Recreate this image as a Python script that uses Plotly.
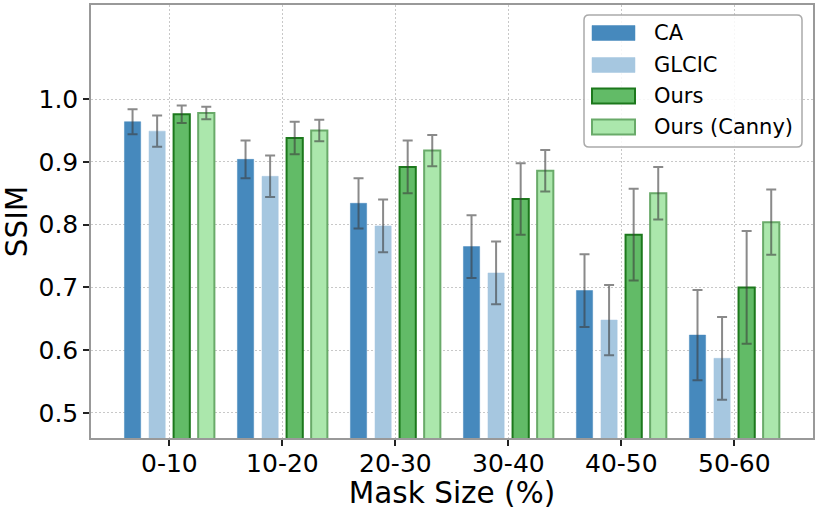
import plotly.graph_objects as go

categories = ["0-10", "10-20", "20-30", "30-40", "40-50", "50-60"]
series_names = ["CA", "GLCIC", "Ours", "Ours (Canny)"]

ca_mean = [0.964, 0.904, 0.834, 0.765, 0.695, 0.624]
ca_std = [0.020, 0.030, 0.040, 0.050, 0.058, 0.072]
glcic_mean = [0.949, 0.877, 0.798, 0.723, 0.648, 0.587]
glcic_std = [0.025, 0.033, 0.042, 0.050, 0.056, 0.066]
ours_mean = [0.976, 0.938, 0.892, 0.841, 0.784, 0.700]
ours_std = [0.014, 0.026, 0.042, 0.057, 0.073, 0.090]
canny_mean = [0.978, 0.950, 0.918, 0.886, 0.850, 0.804]
canny_std = [0.010, 0.017, 0.025, 0.033, 0.042, 0.052]

y_ticks = [0.5, 0.6, 0.7, 0.8, 0.9, 1.0]
y_tick_labels = ["0.5", "0.6", "0.7", "0.8", "0.9", "1.0"]

means = [ca_mean, glcic_mean, ours_mean, canny_mean]
stds = [ca_std, glcic_std, ours_std, canny_std]
fills = ["rgb(70,137,189)", "rgb(166,199,224)", "rgb(98,187,103)", "rgb(171,231,172)"]
edges = ["rgb(70,137,189)", "rgb(166,199,224)", "rgb(28,120,28)", "rgb(105,170,105)"]
edge_w = [0.5, 0.5, 2, 2]

FONT = "DejaVu Sans"
W, H = 830, 510
L, R, T, B = 91, 17, 5, 72
PW, PH = W - L - R, H - T - B


def px(x):
    return (x - L) / PW


def py(y):
    return (H - B - y) / PH


fig = go.Figure()
for name, m, s, fc, ec, ew in zip(series_names, means, stds, fills, edges, edge_w):
    fig.add_trace(go.Bar(
        x=categories, y=m, name=name,
        marker=dict(color=fc, line=dict(color=ec, width=ew)),
        error_y=dict(type="data", array=s, visible=True,
                     color="rgba(60,60,60,0.6)", thickness=2, width=5),
    ))

# legend frame (rounded) + entries
shapes = []
annotations = []
lx0, lx1, ly0, ly1, rr = 584, 802, 15, 147, 5
path = (f"M {px(lx0+rr)},{py(ly0)} L {px(lx1-rr)},{py(ly0)} Q {px(lx1)},{py(ly0)} {px(lx1)},{py(ly0+rr)} "
        f"L {px(lx1)},{py(ly1-rr)} Q {px(lx1)},{py(ly1)} {px(lx1-rr)},{py(ly1)} "
        f"L {px(lx0+rr)},{py(ly1)} Q {px(lx0)},{py(ly1)} {px(lx0)},{py(ly1-rr)} "
        f"L {px(lx0)},{py(ly0+rr)} Q {px(lx0)},{py(ly0)} {px(lx0+rr)},{py(ly0)} Z")
shapes.append(dict(type="path", xref="paper", yref="paper", layer="above", path=path,
                   fillcolor="rgba(255,255,255,0.85)", line=dict(color="#aaaaaa", width=1.5)))
row_y = [33, 65, 96, 127]
for name, fc, ec, ew, yc in zip(series_names, fills, edges, edge_w, row_y):
    shapes.append(dict(type="rect", xref="paper", yref="paper", layer="above",
                       x0=px(592), x1=px(635), y0=py(yc + 7.5), y1=py(yc - 7.5),
                       fillcolor=fc, line=dict(color=ec, width=ew if ew > 1 else 0.5)))
    annotations.append(dict(text=name, xref="paper", yref="paper", x=px(652), y=py(yc),
                            xanchor="left", yanchor="middle", showarrow=False,
                            font=dict(size=21, family=FONT, color="black")))

fig.update_layout(
    width=W, height=H,
    margin=dict(l=L, r=R, t=T, b=B, pad=0),
    paper_bgcolor="white", plot_bgcolor="white",
    barmode="group", bargap=0.13, bargroupgap=0.34,
    font=dict(family=FONT, color="black"),
    showlegend=False,
    shapes=shapes, annotations=annotations,
)
fig.update_xaxes(
    type="category", range=[-0.694, 5.696], automargin=False,
    showline=True, mirror=True, linecolor="#999999", linewidth=1.5,
    ticks="outside", ticklen=6, tickwidth=1.5, tickcolor="#222222",
    tickfont=dict(size=25, family=FONT), ticklabelstandoff=-4,
    showgrid=True, gridcolor="#c8c8c8", griddash="1.5px,2.5px", gridwidth=1,
    title=dict(text="Mask Size (%)", font=dict(size=29.5, family=FONT), standoff=1),
)
fig.update_yaxes(
    range=[0.46, 1.15], tickvals=y_ticks, ticktext=y_tick_labels, automargin=False,
    showline=True, mirror=True, linecolor="#999999", linewidth=1.5,
    ticks="outside", ticklen=6, tickwidth=1.5, tickcolor="#222222",
    tickfont=dict(size=25, family=FONT),
    showgrid=True, gridcolor="#c8c8c8", griddash="1.5px,2.5px", gridwidth=1,
    zeroline=False,
    title=dict(text="SSIM", font=dict(size=29.5, family=FONT), standoff=11),
)
fig.write_html("out.html", config={"displayModeBar": False},
               post_script="document.body.style.margin='0';")
